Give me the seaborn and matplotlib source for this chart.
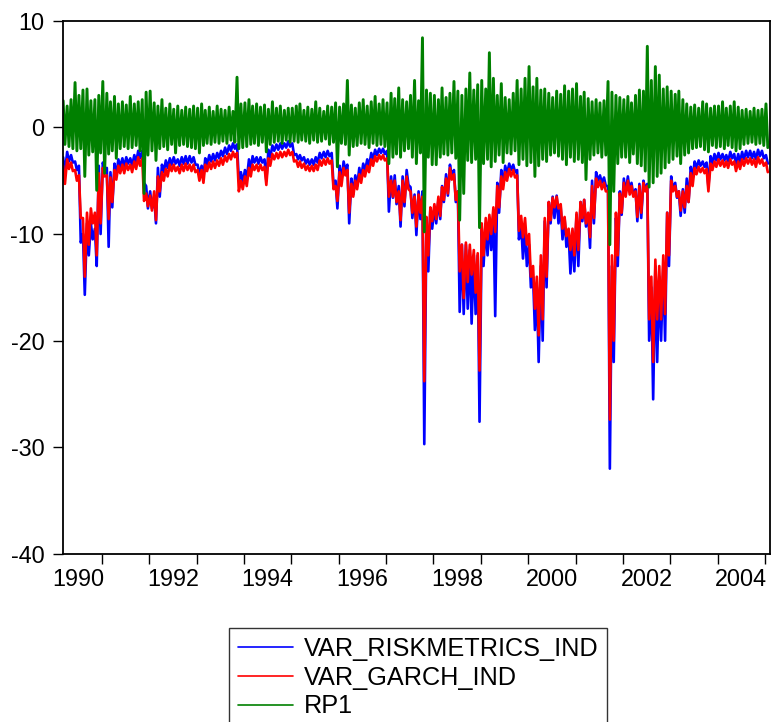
import numpy as np
import pandas as pd
import matplotlib
matplotlib.use("Agg")
import matplotlib.pyplot as plt
import matplotlib.dates as mdates
import matplotlib.ticker as mticker
import seaborn as sns

# ---------------- data (monthly envelopes) ----------------
months = pd.date_range("1990-03-01", "2005-01-01", freq="MS")   # 179 months

series_names = ["VAR_RISKMETRICS_IND", "VAR_GARCH_IND", "RP1"]
series_colors = ["#0000FF", "#FF0000", "#008000"]

# VAR_GARCH_IND (red): monthly high / low
red_hi = [
    -3.6, -3.0, -3.3, -4.0, -4.5, -8.5, -8.0, -7.6, -8.0, -4.3,                 # 1990 Mar-Dec
    -3.8, -4.5, -4.7, -4.0, -3.6, -3.5, -3.4, -3.5, -3.2, -2.8, -2.9, -6.2,     # 1991
    -6.4, -6.0, -4.6, -4.2, -3.9, -3.5, -3.5, -3.7, -3.5, -3.4, -3.5, -3.5,     # 1992
    -4.0, -4.0, -3.5, -3.3, -3.2, -3.1, -2.9, -2.7, -2.5, -2.3, -2.4, -5.0,     # 1993
    -4.6, -3.8, -3.5, -3.5, -3.5, -3.7, -2.9, -2.5, -2.4, -2.3, -2.3, -2.1,     # 1994
    -2.3, -3.1, -3.2, -3.4, -3.6, -3.6, -3.5, -3.1, -3.0, -2.9, -3.1, -5.5,     # 1995
    -4.2, -3.8, -4.0, -5.3, -5.0, -4.4, -4.0, -3.6, -3.0, -2.7, -2.6, -2.6,     # 1996
    -2.9, -5.0, -5.0, -6.0, -5.0, -4.6, -6.0, -6.5, -6.3, -6.5, -8.4, -7.5,     # 1997
    -7.2, -6.5, -5.6, -4.8, -3.8, -4.4, -6.0, -11.0, -10.8, -11.0, -11.5, -11.8,  # 1998
    -9.0, -8.5, -8.2, -7.5, -5.5, -4.6, -4.2, -3.9, -4.0, -4.5, -8.3, -8.5,     # 1999
    -10.0, -13.0, -14.0, -12.0, -8.5, -7.0, -6.6, -6.5, -7.2, -8.4, -9.5, -9.5,  # 2000
    -8.0, -7.0, -6.8, -8.0, -5.5, -4.8, -5.0, -5.2, -6.0, -12.0, -8.0, -6.2,    # 2001
    -5.2, -5.0, -5.5, -6.0, -5.5, -5.2, -5.5, -14.0, -12.4, -13.0, -12.0, -8.0,  # 2002
    -5.0, -5.5, -6.0, -6.0, -5.5, -4.3, -3.8, -3.7, -3.8, -3.9, -3.4, -3.2,     # 2003
    -3.0, -3.1, -3.2, -3.0, -3.2, -3.2, -3.0, -2.9, -2.9, -3.0, -2.8, -3.0,     # 2004
    -3.3,                                                                       # 2005 Jan
]
red_lo = [
    -5.3, -3.9, -4.1, -5.0, -8.5, -14.0, -11.0, -9.0, -12.0, -9.0,
    -4.6, -8.6, -7.0, -4.9, -4.3, -4.3, -4.0, -4.2, -3.9, -3.6, -6.9, -7.4,
    -7.8, -8.7, -6.0, -5.0, -4.6, -4.1, -4.1, -4.3, -4.1, -4.0, -4.1, -4.2,
    -5.0, -5.2, -4.1, -3.9, -3.8, -3.6, -3.5, -3.2, -3.0, -2.8, -6.0, -5.8,
    -5.5, -4.6, -4.0, -4.1, -4.0, -5.4, -3.6, -3.0, -2.9, -2.8, -2.7, -2.6,
    -3.2, -3.7, -3.8, -4.0, -4.1, -4.1, -4.0, -3.6, -3.5, -3.4, -5.8, -6.9,
    -5.5, -4.5, -8.0, -6.5, -5.8, -5.2, -4.6, -4.2, -3.6, -3.2, -3.0, -3.1,
    -6.5, -6.5, -7.0, -8.7, -7.0, -5.8, -8.0, -9.3, -8.0, -23.8, -12.0, -8.8,
    -8.6, -8.3, -6.8, -6.2, -4.9, -6.8, -13.5, -16.0, -14.5, -13.8, -15.5, -22.8,
    -12.0, -10.5, -10.0, -9.8, -7.5, -5.8, -5.0, -4.6, -4.7, -9.7, -10.3, -11.0,
    -14.0, -17.0, -19.5, -18.0, -14.0, -8.7, -7.5, -7.6, -9.5, -10.2, -11.5, -12.0,
    -11.5, -8.5, -9.0, -10.3, -8.5, -5.6, -5.8, -6.0, -27.4, -20.0, -12.0, -8.0,
    -6.5, -6.3, -6.5, -8.4, -8.0, -6.0, -18.0, -22.0, -18.0, -18.0, -17.5, -12.0,
    -6.0, -6.5, -7.8, -7.5, -7.0, -5.5, -4.4, -4.2, -4.3, -6.0, -4.0, -3.7,
    -3.6, -3.7, -3.8, -3.5, -4.1, -3.9, -3.6, -3.4, -3.5, -3.7, -3.4, -3.6,
    -4.2,
]

# VAR_RISKMETRICS_IND (blue): monthly high / low
blue_hi = [
    -2.8, -2.3, -2.6, -3.2, -3.6, -10.0, -9.0, -9.0, -9.5, -3.6,
    -3.3, -3.8, -4.2, -3.4, -3.0, -2.9, -2.8, -2.9, -2.6, -2.2, -2.2, -5.5,
    -6.0, -6.5, -3.8, -3.5, -3.1, -2.9, -2.8, -3.0, -2.8, -2.7, -2.7, -2.8,
    -3.5, -3.6, -2.9, -2.6, -2.5, -2.4, -2.2, -1.9, -1.7, -1.5, -1.6, -4.2,
    -4.0, -3.0, -2.7, -2.8, -2.8, -3.0, -2.1, -1.7, -1.6, -1.5, -1.5, -1.3,
    -1.5, -2.5, -2.6, -2.8, -3.0, -3.0, -2.8, -2.4, -2.3, -2.2, -2.4, -5.0,
    -3.6, -3.2, -3.5, -4.8, -4.5, -3.8, -3.4, -3.0, -2.4, -2.1, -2.0, -2.0,
    -2.2, -4.6, -4.5, -5.5, -4.6, -4.0, -5.6, -6.3, -6.0, -6.0, -8.5, -7.6,
    -7.5, -6.8, -5.5, -4.4, -3.5, -4.0, -6.0, -11.0, -11.0, -11.5, -12.0, -12.0,
    -9.5, -9.0, -8.5, -8.0, -5.2, -4.0, -3.6, -3.4, -3.5, -4.0, -9.0, -9.5,
    -11.0, -14.0, -15.0, -13.0, -8.8, -7.0, -6.5, -6.4, -7.5, -8.5, -10.0, -10.0,
    -8.2, -7.0, -6.8, -8.2, -5.0, -4.2, -4.5, -4.7, -5.5, -13.0, -8.5, -6.0,
    -4.8, -4.6, -5.2, -5.8, -5.3, -5.0, -5.3, -15.0, -13.0, -14.0, -13.0, -8.0,
    -4.6, -5.2, -6.0, -5.8, -4.8, -3.7, -3.2, -3.1, -3.2, -3.3, -2.7, -2.5,
    -2.4, -2.5, -2.6, -2.3, -2.5, -2.5, -2.3, -2.2, -2.2, -2.3, -2.1, -2.2,
    -2.6,
]
blue_lo = [
    -4.3, -3.2, -3.3, -4.0, -10.8, -15.7, -12.0, -10.5, -13.0, -10.0,
    -4.0, -11.2, -7.5, -4.5, -3.7, -3.7, -3.4, -3.6, -3.3, -2.9, -5.2, -7.6,
    -7.6, -9.0, -6.5, -4.2, -3.8, -3.5, -3.4, -3.6, -3.4, -3.4, -3.3, -3.5,
    -4.4, -4.7, -3.5, -3.2, -3.1, -2.9, -2.7, -2.5, -2.2, -2.0, -5.0, -5.2,
    -4.9, -3.9, -3.3, -3.4, -3.3, -5.0, -2.8, -2.2, -2.1, -2.0, -1.9, -1.8,
    -2.6, -3.0, -3.1, -3.4, -3.5, -3.5, -3.3, -2.9, -2.8, -2.7, -5.4, -7.6,
    -5.0, -4.0, -9.0, -6.3, -5.5, -4.8, -4.1, -3.7, -3.0, -2.6, -2.4, -2.5,
    -7.9, -6.6, -7.2, -9.3, -7.4, -5.4, -8.5, -10.1, -8.6, -29.7, -13.5, -9.5,
    -9.0, -8.6, -7.0, -6.4, -4.6, -7.0, -17.3, -17.5, -17.0, -18.4, -17.5, -27.6,
    -13.0, -12.0, -11.5, -17.7, -8.0, -5.4, -4.4, -4.0, -4.2, -10.5, -12.3, -13.0,
    -15.0, -19.0, -22.0, -20.0, -15.0, -9.0, -8.5, -9.0, -10.5, -11.2, -13.7, -13.5,
    -13.0, -8.8, -9.3, -11.3, -9.0, -5.0, -5.2, -5.5, -32.0, -22.0, -13.0, -8.2,
    -6.2, -6.0, -6.4, -8.8, -8.5, -5.8, -20.0, -25.5, -22.0, -20.0, -20.0, -13.0,
    -5.8, -6.6, -8.3, -8.0, -7.0, -4.8, -3.8, -3.6, -3.7, -5.6, -3.4, -3.1,
    -3.0, -3.1, -3.2, -2.9, -3.5, -3.3, -3.0, -2.8, -2.9, -3.0, -2.7, -2.9,
    -3.4,
]

# RP1 (green): monthly high / low
green_hi = [
    2.5, 2.0, 2.6, 4.2, 3.0, 3.5, 3.6, 2.5, 2.6, 3.0,
    4.3, 3.2, 2.4, 2.9, 2.2, 2.4, 2.1, 2.9, 2.2, 2.4, 2.6, 3.3,
    3.4, 2.3, 2.0, 2.6, 1.8, 2.2, 1.7, 2.0, 1.6, 1.9, 1.7, 2.0,
    1.8, 2.2, 1.6, 1.9, 1.5, 2.0, 1.7, 1.6, 1.9, 1.5, 4.7, 2.2,
    2.3, 2.6, 2.0, 2.2, 1.9, 2.1, 1.7, 2.4, 1.8, 2.0, 1.6, 1.8,
    1.8, 2.0, 2.2, 1.6, 1.9, 1.7, 2.4, 1.8, 1.5, 2.0, 1.9, 2.3,
    1.9, 2.2, 4.4, 2.1, 1.8, 2.3, 2.6, 2.0, 2.4, 2.9, 2.2, 2.6,
    2.3, 3.2, 2.7, 3.7, 2.6, 2.4, 3.0, 4.4, 2.5, 8.4, 3.5, 3.2,
    3.0, 2.6, 3.7, 2.8, 3.2, 4.3, 3.4, 3.0, 3.6, 5.1, 3.5, 4.0,
    4.4, 3.6, 7.0, 4.6, 3.0, 4.1, 2.8, 2.6, 3.2, 4.4, 3.6, 4.6,
    5.7, 3.8, 4.6, 3.5, 3.6, 3.2, 2.8, 3.4, 3.1, 3.9, 3.4, 3.6,
    4.1, 2.9, 3.3, 2.7, 2.4, 2.6, 2.3, 2.5, 4.3, 3.3, 3.0, 2.8,
    2.6, 2.9, 2.3, 3.0, 3.5, 3.4, 7.6, 4.4, 5.7, 4.9, 3.6, 3.8,
    3.4, 3.1, 3.4, 2.6, 2.2, 1.9, 2.1, 1.8, 2.4, 2.2, 1.8, 2.0,
    2.0, 2.4, 1.8, 2.0, 2.4, 1.9, 1.6, 1.7, 1.5, 1.8, 1.6, 1.7,
    2.2,
]
green_lo = [
    -1.6, -1.8, -2.0, -2.2, -2.0, -4.6, -2.6, -2.3, -5.9, -2.4,
    -4.3, -2.5, -2.2, -2.9, -2.0, -1.8, -2.0, -1.9, -1.7, -2.2, -6.2, -2.6,
    -2.2, -3.1, -2.0, -1.8, -2.1, -1.6, -2.4, -1.7, -1.6, -1.8, -1.9, -2.0,
    -2.4, -1.7, -1.5, -1.6, -1.4, -1.5, -1.3, -1.5, -1.2, -1.4, -2.0, -1.9,
    -1.8, -1.6, -1.5, -1.7, -1.4, -2.3, -1.6, -1.4, -1.3, -1.5, -1.2, -1.4,
    -1.3, -1.4, -1.2, -1.3, -1.5, -1.2, -1.4, -1.3, -1.1, -1.6, -1.4, -3.7,
    -1.5, -1.6, -2.6, -1.8, -1.7, -1.5, -1.6, -1.9, -1.5, -1.7, -1.6, -1.8,
    -3.4, -2.8, -2.5, -2.8, -2.2, -2.0, -2.8, -3.4, -2.4, -9.8, -2.8, -3.5,
    -3.5, -2.8, -2.5, -2.6, -2.4, -2.9, -8.7, -6.2, -3.1, -3.3, -3.0, -9.4,
    -3.4, -3.0, -3.7, -3.2, -2.6, -3.3, -2.4, -2.5, -2.2, -3.5, -3.0, -3.6,
    -3.3, -4.6, -3.6, -3.0, -3.2, -2.6, -2.4, -2.7, -3.0, -3.5, -2.8, -3.2,
    -3.0, -3.3, -4.9, -3.0, -2.6, -2.4, -2.8, -2.6, -11.0, -6.0, -3.4, -2.8,
    -2.8, -3.3, -2.5, -3.4, -3.6, -4.1, -5.6, -5.2, -4.6, -4.3, -3.8, -3.3,
    -3.0, -2.7, -3.4, -2.6, -2.4, -2.0, -1.9, -1.8, -2.1, -2.3, -1.7, -1.9,
    -1.8, -2.0, -1.7, -1.9, -2.2, -2.0, -1.6, -1.5, -1.4, -1.6, -1.5, -1.7,
    -1.9,
]

year_labels = ["1990", "1992", "1994", "1996", "1998", "2000", "2002", "2004"]
y_ticks = [-40, -30, -20, -10, 0, 10]

# ---------------- build long-form table (high and low of each month) ----------------
rows = []
for name, hi, lo in zip(series_names,
                        [blue_hi, red_hi, green_hi],
                        [blue_lo, red_lo, green_lo]):
    for m, h, l in zip(months, hi, lo):
        rows.append((m + pd.Timedelta(days=7), h, name))
        rows.append((m + pd.Timedelta(days=21), l, name))
df = pd.DataFrame(rows, columns=["date", "value", "series"])

# ---------------- plot ----------------
sns.set_theme(style="white")
plt.rcParams["font.family"] = ["Liberation Sans", "DejaVu Sans"]

W, H = 771, 722
fig = plt.figure(figsize=(W / 100, H / 100), dpi=100)
ax = fig.add_axes([63 / W, 1 - 554 / H, (770 - 63) / W, (554 - 20.7) / H])

widths = {"VAR_RISKMETRICS_IND": 1.9, "VAR_GARCH_IND": 1.9, "RP1": 2.1}
for name, color in zip(series_names, series_colors):
    sns.lineplot(data=df[df["series"] == name], x="date", y="value",
                 color=color, estimator=None, sort=False,
                 linewidth=widths[name], ax=ax, legend=False)

ax.set_xlim(pd.Timestamp("1990-03-07"), pd.Timestamp("2005-02-08"))
ax.set_ylim(-40, 10)
ax.set_yticks(y_ticks)
ax.set_yticklabels([str(t) for t in y_ticks])
ax.set_xlabel("")
ax.set_ylabel("")

# year boundary ticks (no labels), labels centred in even years
ax.xaxis.set_major_locator(mdates.YearLocator(1))
ax.xaxis.set_major_formatter(mticker.NullFormatter())
label_pos = [mdates.date2num(pd.Timestamp(f"{y}-07-02")) for y in year_labels]
ax.xaxis.set_minor_locator(mticker.FixedLocator(label_pos))
ax.xaxis.set_minor_formatter(mticker.FixedFormatter(year_labels))

ax.tick_params(axis="x", which="major", direction="out", length=7.5, width=1.0,
               color="black", bottom=True)
ax.tick_params(axis="x", which="minor", length=0, pad=10, labelsize=16.8,
               labelcolor="black", bottom=True)
ax.tick_params(axis="y", which="major", direction="out", length=7.5, width=1.0,
               color="black", pad=6, labelsize=16.8, labelcolor="black", left=True)

for s in ax.spines.values():
    s.set_visible(True)
    s.set_color("black")
    s.set_linewidth(1.3)

handles = [plt.Line2D([], [], color=c, linewidth=1.2) for c in series_colors]
leg = fig.legend(handles, series_names, loc="upper left",
                 bbox_to_anchor=(229 / W, 1 - 628 / H), borderaxespad=0,
                 frameon=True, fancybox=False, edgecolor="black",
                 fontsize=18.2, handlelength=2.2, handletextpad=0.4,
                 borderpad=0.35, labelspacing=0.19)
leg.get_frame().set_linewidth(1.0)
leg.get_frame().set_facecolor("white")
for t in leg.get_texts():
    t.set_color("black")

fig.savefig("out.png", dpi=100)
